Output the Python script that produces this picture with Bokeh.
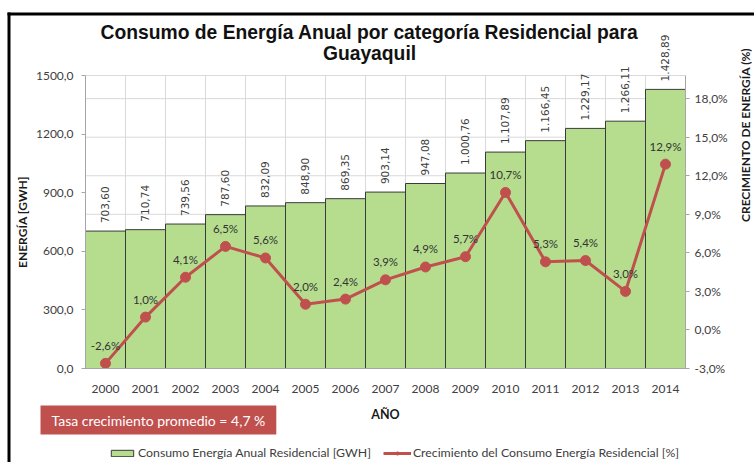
import math
from bokeh.plotting import figure
from bokeh.models import (ColumnDataSource, Range1d, LinearAxis, FixedTicker,
                          CustomJSTickFormatter, Legend, LegendItem, Label, LabelSet,
                          BoxAnnotation)
from bokeh.core.properties import value
from bokeh.embed import file_html
from bokeh.resources import INLINE

# ---------------- data ----------------
years = ["2000", "2001", "2002", "2003", "2004", "2005", "2006", "2007",
         "2008", "2009", "2010", "2011", "2012", "2013", "2014"]
energy_gwh = [703.60, 710.74, 739.56, 787.60, 832.09, 848.90, 869.35, 903.14,
              947.08, 1000.76, 1107.89, 1166.45, 1229.17, 1266.11, 1428.89]
growth_pct = [-2.6, 1.0, 4.1, 6.5, 5.6, 2.0, 2.4, 3.9, 4.9, 5.7, 10.7, 5.3, 5.4, 3.0, 12.9]
left_ticks = [0, 300, 600, 900, 1200, 1500]
right_ticks = [-3, 0, 3, 6, 9, 12, 15, 18]
right_max = 19.8
avg_growth_text = "Tasa crecimiento promedio = 4,7 %"
title_line1 = "Consumo de Energía Anual por categoría Residencial para"
title_line2 = "Guayaquil"
bar_series_name = "Consumo Energía Anual Residencial [GWH]"
line_series_name = "Crecimiento del Consumo Energía Residencial [%]"


def fmt_es(v, d):
    s = f"{v:,.{d}f}"
    return s.replace(",", "X").replace(".", ",").replace("X", ".")


n = len(years)
xpos = list(range(n))
energy_labels = [fmt_es(v, 2) for v in energy_gwh]
growth_labels = [fmt_es(v, 1) + "%" for v in growth_pct]
src = ColumnDataSource(dict(x=xpos, year=years, energy=energy_gwh, growth=growth_pct,
                            elab=energy_labels, glab=growth_labels))

# ---------------- layout geometry (canvas pixels) ----------------
W, H = 754, 462
PL, PR, PT, PB = 85, 685, 75, 368          # plot area inside the canvas
ymin, ymax = left_ticks[0], left_ticks[-1]
rmin = right_ticks[0]

xk = n / (PR - PL)
x_start = -0.5 - PL * xk
x_end = n - 0.5 + (W - PR) * xk
yk = (ymax - ymin) / (PB - PT)
y_start = ymin - (H - PB) * yk
y_end = ymax + PT * yk
rk = (right_max - rmin) / (PB - PT)
r_start = rmin - (H - PB) * rk
r_end = right_max + PT * rk


def up(py):
    """canvas y (from top) -> screen y measured upward from canvas bottom"""
    return H - py


GREEN = "#b6dd8e"
RED = "#c0504d"
TXT = "#404040"
GRID = "#d9d9d9"
AXIS = "#a6a6a6"

p = figure(x_range=Range1d(x_start, x_end), y_range=Range1d(y_start, y_end),
           width=W, height=H, min_border=0,
           x_axis_location=None, y_axis_location=None,
           output_backend="svg", toolbar_location=None,
           background_fill_color="white", border_fill_color="white",
           outline_line_color=None)
p.grid.visible = False
p.extra_y_ranges = {"pct": Range1d(r_start, r_end)}

# outer chart frame (black L-border)
p.add_layout(BoxAnnotation(left=7, right=10, bottom=0, top=up(12), left_units="screen",
                           right_units="screen", top_units="screen", bottom_units="screen",
                           fill_color="black", fill_alpha=1, line_color=None))
p.add_layout(BoxAnnotation(left=7, right=W, bottom=up(15), top=up(12), left_units="screen",
                           right_units="screen", top_units="screen", bottom_units="screen",
                           fill_color="black", fill_alpha=1, line_color=None))

# gridlines
vb = [i + 0.5 for i in range(n - 1)]
p.segment(x0=vb, x1=vb, y0=[ymin] * len(vb), y1=[ymax] * len(vb),
          line_color=GRID, line_width=1)
p.segment(x0=[-0.5] * len(right_ticks), x1=[n - 0.5] * len(right_ticks),
          y0=right_ticks, y1=right_ticks, y_range_name="pct", line_color=GRID, line_width=1)
p.segment(x0=[-0.5], x1=[n - 0.5], y0=[ymax], y1=[ymax], line_color=GRID, line_width=1)

# bars
bars = p.vbar(x="x", top="energy", bottom=0, width=1.0, source=src,
              fill_color=GREEN, line_color="#3a3a3a", line_width=1)

# growth line
line_r = p.line(x="x", y="growth", y_range_name="pct", source=src,
                line_color=RED, line_width=3)
pts = p.scatter(x="x", y="growth", y_range_name="pct", source=src,
                marker="circle", size=10, fill_color=RED, line_color=RED)

# data labels
p.add_layout(LabelSet(x="x", y="energy", text="elab", source=src,
                      angle=math.pi / 2, text_align="left", text_baseline="middle",
                      y_offset=8, text_font=value("DejaVu Sans"), text_font_size="10.5px",
                      text_color=TXT))
p.add_layout(LabelSet(x="x", y="growth", text="glab", source=src, y_range_name="pct",
                      text_align="center", text_baseline="middle", y_offset=18,
                      text_font=value("Lato"), text_font_size="11.5px", text_color="#333333"))

# axes (fixed at the plot-area edges)
xaxis = LinearAxis(fixed_location=ymin, bounds=(-0.5, n - 0.5),
                   ticker=FixedTicker(ticks=xpos),
                   major_label_overrides={i: y for i, y in zip(xpos, years)},
                   axis_label="AÑO", axis_label_text_font="Lato",
                   axis_label_text_font_style="bold", axis_label_text_font_size="12.5px",
                   axis_label_text_color="#1a1a1a", axis_label_standoff=11,
                   major_label_text_font="Lato", major_label_text_font_size="12px",
                   major_label_text_color=TXT, major_label_standoff=10,
                   major_tick_line_color=None, minor_tick_line_color=None,
                   axis_line_color=AXIS)
p.add_layout(xaxis, "below")

yaxis = LinearAxis(fixed_location=-0.5, bounds=(ymin, ymax),
                   ticker=FixedTicker(ticks=left_ticks),
                   formatter=CustomJSTickFormatter(code="return tick.toFixed(1).replace('.', ',');"),
                   axis_label="ENERGÍA [GWH]", axis_label_text_font="Lato",
                   axis_label_text_font_style="bold", axis_label_text_font_size="12px",
                   axis_label_text_color="#1a1a1a", axis_label_standoff=3,
                   major_label_text_font="Lato", major_label_text_font_size="12px",
                   major_label_text_color=TXT, major_label_standoff=8,
                   major_tick_in=0, major_tick_out=4, minor_tick_line_color=None,
                   axis_line_color=AXIS, major_tick_line_color=AXIS)
p.add_layout(yaxis, "left")

rax = LinearAxis(y_range_name="pct", fixed_location=n - 0.5, bounds=(rmin, right_max),
                 ticker=FixedTicker(ticks=right_ticks),
                 formatter=CustomJSTickFormatter(code="return tick.toFixed(1).replace('.', ',') + '%';"),
                 axis_label="CRECIMIENTO DE ENERGÍA (%)",
                 axis_label_text_font="Lato", axis_label_text_font_style="bold",
                 axis_label_text_font_size="12px", axis_label_text_color="#1a1a1a",
                 axis_label_standoff=15,
                 major_label_text_font="Lato", major_label_text_font_size="12px",
                 major_label_text_color=TXT, major_label_standoff=5,
                 major_tick_in=0, major_tick_out=4, minor_tick_line_color=None,
                 axis_line_color=AXIS, major_tick_line_color=AXIS)
try:
    rax.axis_label_orientation = math.pi / 2
except Exception:
    pass
p.add_layout(rax, "right")

# title
for txt, py in ((title_line1, 32), (title_line2, 53)):
    p.add_layout(Label(x=369, y=up(py), x_units="screen", y_units="screen", text=txt,
                       text_align="center", text_baseline="middle",
                       text_font="Liberation Sans", text_font_style="bold",
                       text_font_size="19.3px", text_color="#111111"))

# legend
legend = Legend(items=[LegendItem(label=bar_series_name, renderers=[bars]),
                       LegendItem(label=line_series_name, renderers=[line_r, pts])],
                orientation="horizontal", location=(108, 2),
                border_line_alpha=0, background_fill_alpha=0, padding=0, margin=0,
                spacing=12, glyph_width=28, glyph_height=8, label_standoff=2,
                label_text_font="Lato", label_text_font_size="12.3px",
                label_text_color=TXT)
p.add_layout(legend)

# average growth box (shadow + box)
pad = dict(left=11, right=11, top=6, bottom=6)
p.add_layout(Label(x=43, y=up(419.5) - 3, x_units="screen", y_units="screen",
                   text=avg_growth_text, text_align="left", text_baseline="middle",
                   text_font="Lato", text_font_size="14px", text_alpha=0, padding=pad,
                   background_fill_color="#808080", background_fill_alpha=0.35))
p.add_layout(Label(x=40, y=up(419.5), x_units="screen", y_units="screen",
                   text=avg_growth_text, text_align="left", text_baseline="middle",
                   text_font="Lato", text_font_size="14px", text_color="white", padding=pad,
                   background_fill_color=RED))

open("out.html", "w").write(file_html(p, INLINE))
